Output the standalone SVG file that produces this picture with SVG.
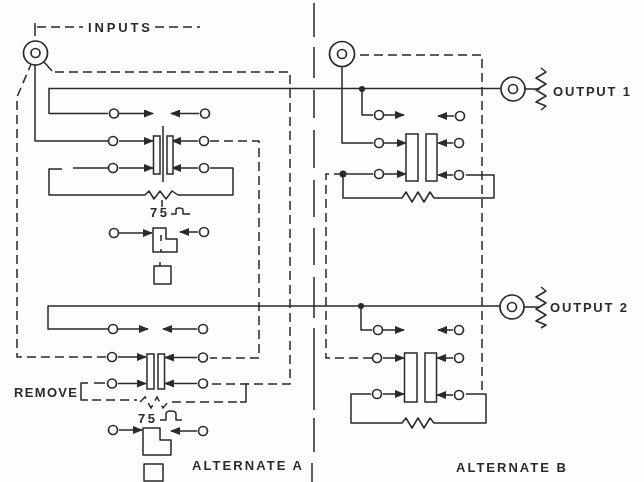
<svg xmlns="http://www.w3.org/2000/svg" width="644" height="482" viewBox="0 0 644 482">
<style>
.w{fill:none;stroke:#2a2a2a;stroke-width:1.5;stroke-linejoin:round}
.d{fill:none;stroke:#2a2a2a;stroke-width:1.5;stroke-dasharray:9 5}
.c{fill:#fdfdfc;stroke:#2a2a2a;stroke-width:1.7}
.p{fill:#fdfdfc;stroke:#2a2a2a;stroke-width:1.5}
.n{fill:#2a2a2a}
text{font-family:"Liberation Sans",Arial,sans-serif;font-weight:bold;font-size:13px;fill:#2a2a2a}
</style>
<defs>
<marker id="a" viewBox="0 0 10 8" refX="9" refY="4" markerWidth="10" markerHeight="8" markerUnits="userSpaceOnUse" orient="auto"><path d="M0 0L10 4L0 8Z" fill="#2a2a2a"/></marker>
<filter id="s" x="0" y="0" width="100%" height="100%"><feGaussianBlur stdDeviation="0.45"/></filter>
</defs>
<rect width="644" height="482" fill="#fdfdfc"/>
<g filter="url(#s)">
<g id="connectors">
<path class="w" d="M314 3V37M314 47V78M314 90V118M314 130V168M314 180V217M314 228V265M314 277V318M314 328V410M314 418V452M312 463V482"/>
<path class="w" d="M35 23V36"/>
<path class="d" d="M37 27H83M155 27H200"/>
<path class="w" d="M44 62L52 71"/>
<path class="d" d="M55 72H290V384H207"/>
<path class="d" d="M32 62L17 97V357H107"/>
<path class="d" d="M210 141H259V358H210"/>
<path class="w" d="M105 383H94M88 383H81V400H88"/>
<path class="d" d="M92 400H137"/>
<path class="d" d="M140 402L145 397L151 408L157 397L163 408L168 402" stroke-dasharray="7 3"/>
<path class="d" d="M172 402H240"/>
<path class="w" d="M240 402H246V383"/>
<path class="w" d="M35 58V141H108"/>
<path class="w" d="M500 88.500H49V113.500H108"/>
<path class="w" d="M500 306H48V329H108"/>
<path class="w" d="M119 113.500H153" marker-end="url(#a)"/>
<path class="w" d="M199 113.500H171" marker-end="url(#a)"/>
<path class="w" d="M119 141H153" marker-end="url(#a)"/>
<path class="w" d="M198 141H172" marker-end="url(#a)"/>
<path class="w" d="M119 168H153" marker-end="url(#a)"/>
<path class="w" d="M198 168H172" marker-end="url(#a)"/>
<path class="w" d="M62 169H49V195H145L149 191L154 199L160 191L166 199L172 191L178 195H233V168H210M73 168H108"/>
<path class="w" d="M163 126V182M162 200V207"/>
<path class="w" d="M119 233H152" marker-end="url(#a)"/>
<path class="w" d="M198 232H180" marker-end="url(#a)"/>
<path class="w" d="M118 329H148" marker-end="url(#a)"/>
<path class="w" d="M197 329H163" marker-end="url(#a)"/>
<path class="w" d="M118 357H146" marker-end="url(#a)"/>
<path class="w" d="M197 357.500H165" marker-end="url(#a)"/>
<path class="w" d="M118 383.500H146" marker-end="url(#a)"/>
<path class="w" d="M197 383.500H165" marker-end="url(#a)"/>
<path class="w" d="M119 430H142" marker-end="url(#a)"/>
<path class="w" d="M197 431H171" marker-end="url(#a)"/>
<path class="w" d="M171 214H176V210Q176 208 179 208Q183 208 183 210V214H190M160 420H166V414Q166 411 171 411Q176 411 176 414V420H182"/>
<path class="d" d="M360 55H482V393"/>
<path class="d" d="M343 174H326V358H372"/>
<path class="w" d="M342 58V143H373"/>
<path class="w" d="M362 89V115H373"/>
<path class="w" d="M361 306V330H372"/>
<path class="w" d="M384 115H404" marker-end="url(#a)"/>
<path class="w" d="M454 116H438" marker-end="url(#a)"/>
<path class="w" d="M384 143H406" marker-end="url(#a)"/>
<path class="w" d="M453 143H438" marker-end="url(#a)"/>
<path class="w" d="M343 174H373"/>
<path class="w" d="M384 174H406" marker-end="url(#a)"/>
<path class="w" d="M453 175H438" marker-end="url(#a)"/>
<path class="w" d="M343 174V198H402L406 192L412 202L418 192L424 202L430 192L434 198H494V175H466"/>
<path class="w" d="M383 330H404" marker-end="url(#a)"/>
<path class="w" d="M453 330H438" marker-end="url(#a)"/>
<path class="w" d="M383 358H404" marker-end="url(#a)"/>
<path class="w" d="M453 358H437" marker-end="url(#a)"/>
<path class="w" d="M371 394H351V423H402L406 418L412 428L418 418L424 428L430 418L434 423H486V394H466"/>
<path class="w" d="M383 394H404" marker-end="url(#a)"/>
<path class="w" d="M453 395H437" marker-end="url(#a)"/>
<path class="w" d="M525 89H540M524 307H540"/>
<path class="w" d="M541 68L546 72L536 78L546 84L536 90L546 96L536 102L546 106L541 110"/>
<path class="w" d="M541 287L546 291L536 297L546 303L536 309L546 315L536 321L546 325L541 328"/>
<circle class="n" cx="362" cy="89" r="3"/><circle class="n" cx="361" cy="306" r="3"/><circle class="n" cx="343" cy="174" r="3.500"/>
</g>
<g id="input-a"><circle class="c" cx="35.500" cy="53" r="12"/><circle class="c" cx="35.500" cy="53" r="4.500"/></g>
<g id="input-b"><circle class="c" cx="342" cy="54" r="12.500"/><circle class="c" cx="342" cy="54" r="4.500"/></g>
<g id="output-1"><circle class="c" cx="513" cy="89" r="12"/><circle class="c" cx="513" cy="89" r="4.500"/></g>
<g id="output-2"><circle class="c" cx="512" cy="307" r="12"/><circle class="c" cx="512" cy="307" r="4.500"/></g>
<g id="relay-a1"><rect class="p" x="153.500" y="136" width="6.500" height="38"/><rect class="p" x="167" y="136" width="6" height="38"/></g>
<g id="relay-a2"><rect class="p" x="147" y="354" width="7" height="35"/><rect class="p" x="158" y="354" width="6.500" height="35"/></g>
<g id="relay-b1"><rect class="p" x="406" y="134" width="12" height="47"/><rect class="p" x="426" y="134" width="11" height="47"/></g>
<g id="relay-b2"><rect class="p" x="404.500" y="353" width="12.500" height="49"/><rect class="p" x="425" y="353" width="11.500" height="49"/></g>
<g id="terminals-a">
<circle class="c" cx="114" cy="113.500" r="4.500"/><circle class="c" cx="205" cy="113.500" r="4.500"/>
<circle class="c" cx="113" cy="141" r="4.500"/><circle class="c" cx="204" cy="141" r="4.500"/>
<circle class="c" cx="113" cy="168" r="4.500"/><circle class="c" cx="204" cy="168" r="4.500"/>
<circle class="c" cx="114" cy="233" r="4.500"/><circle class="c" cx="204" cy="232" r="4.500"/>
<circle class="c" cx="113" cy="329" r="4.500"/><circle class="c" cx="203" cy="329" r="4.500"/>
<circle class="c" cx="112" cy="357" r="4.500"/><circle class="c" cx="203" cy="357.500" r="4.500"/>
<circle class="c" cx="112" cy="383.500" r="4.500"/><circle class="c" cx="203" cy="383.500" r="4.500"/>
<circle class="c" cx="113" cy="430" r="4.500"/><circle class="c" cx="203" cy="431" r="4.500"/>
</g>
<g id="terminals-b">
<circle class="c" cx="379" cy="115" r="4.500"/><circle class="c" cx="460" cy="116" r="4.500"/>
<circle class="c" cx="379" cy="143" r="4.500"/><circle class="c" cx="459" cy="143" r="4.500"/>
<circle class="c" cx="379" cy="174" r="4.500"/><circle class="c" cx="459" cy="175" r="4.500"/>
<circle class="c" cx="378" cy="330" r="4.500"/><circle class="c" cx="459" cy="330" r="4.500"/>
<circle class="c" cx="377" cy="358" r="4.500"/><circle class="c" cx="459" cy="358" r="4.500"/>
<circle class="c" cx="377" cy="394" r="4.500"/><circle class="c" cx="459" cy="395" r="4.500"/>
</g>
<g id="plug-a1"><path class="w" d="M153 228H166V239H177V252H153ZM161 235V241M161 249V252"/></g>
<g id="cap-a1"><path class="w" d="M154 266H171V284H154ZM160 262V266"/></g>
<g id="plug-a2"><path class="w" d="M143 428H160V440H171V455H143Z"/></g>
<g id="cap-a2"><rect class="w" x="144" y="464" width="19" height="17"/></g>
<g id="labels">
<text x="88" y="32" textLength="62">INPUTS</text>
<text x="150" y="217" textLength="17">75</text>
<text x="138" y="423" textLength="17">75</text>
<text x="14" y="397" textLength="63">REMOVE</text>
<text x="553" y="95.500" textLength="77">OUTPUT 1</text>
<text x="550" y="312" textLength="77">OUTPUT 2</text>
<text x="192" y="470" textLength="110">ALTERNATE A</text>
<text x="456" y="471.500" textLength="110">ALTERNATE B</text>
</g>
</g>
</svg>
